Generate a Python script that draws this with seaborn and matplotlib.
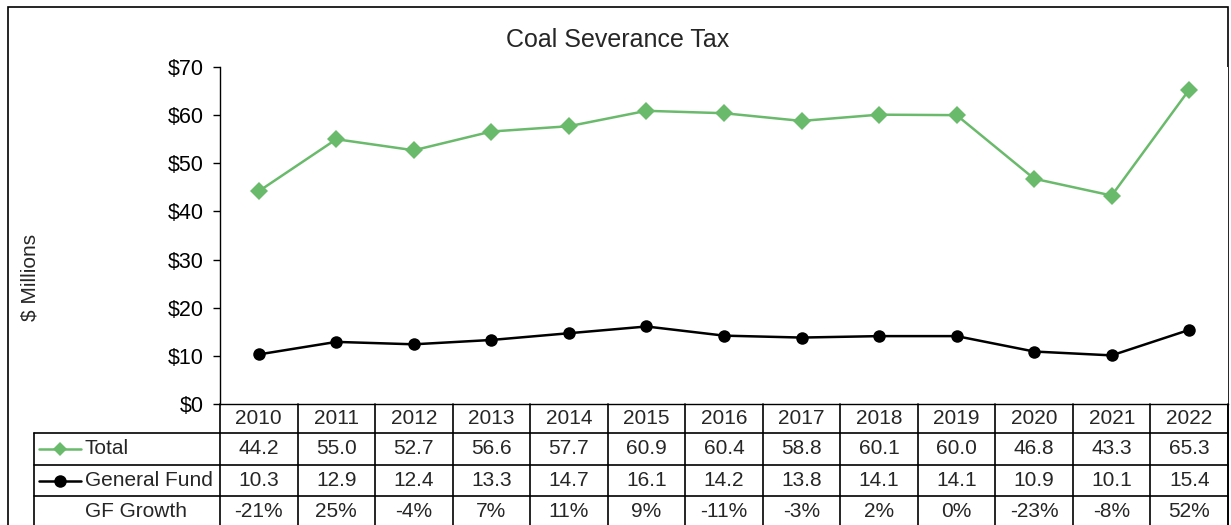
import pandas as pd
import numpy as np
import matplotlib
matplotlib.use("Agg")
import matplotlib.pyplot as plt
import seaborn as sns
from matplotlib.patches import Rectangle
from matplotlib.lines import Line2D

# ---- data ----
years = [2010, 2011, 2012, 2013, 2014, 2015, 2016, 2017, 2018, 2019, 2020, 2021, 2022]
total = [44.2, 55.0, 52.7, 56.6, 57.7, 60.9, 60.4, 58.8, 60.1, 60.0, 46.8, 43.3, 65.3]
general_fund = [10.3, 12.9, 12.4, 13.3, 14.7, 16.1, 14.2, 13.8, 14.1, 14.1, 10.9, 10.1, 15.4]
gf_growth = ["-21%", "25%", "-4%", "7%", "11%", "9%", "-11%", "-3%", "2%", "0%", "-23%", "-8%", "52%"]

GREEN = "#6aba6c"
BLACK = "#000000"

sns.set_style("white")
plt.rcParams['font.family'] = ['Liberation Sans', 'DejaVu Sans']

df = pd.DataFrame({
    "pos": list(range(len(years))) * 2,
    "value": total + general_fund,
    "series": ["Total"] * len(years) + ["General Fund"] * len(years),
})

W, H = 1231, 525
fig = plt.figure(figsize=(W / 100, H / 100), dpi=100)

# plot area in pixel coords
x0, x1 = 220, 1228
y_top, y_bot = 67, 404
ax = fig.add_axes([x0 / W, (H - y_bot) / H, (x1 - x0) / W, (y_bot - y_top) / H])

sns.lineplot(data=df, x="pos", y="value", hue="series", style="series",
             palette={"Total": GREEN, "General Fund": BLACK},
             markers={"Total": "D", "General Fund": "o"},
             dashes=False, markersize=9, linewidth=1.8,
             markeredgewidth=0, legend=False, ax=ax)

ax.set_xlim(-0.5, len(years) - 0.5)
ax.set_ylim(0, 70)
ax.set_yticks(range(0, 71, 10))
ax.set_yticklabels([f"${v}" for v in range(0, 71, 10)], fontsize=15.5)
ax.set_xticks([])
ax.set_xlabel("")
ax.set_ylabel("")
ax.tick_params(axis="y", direction="out", length=5, width=1, colors="black", left=True, pad=7)
for side in ["top", "right"]:
    ax.spines[side].set_visible(False)
for side in ["left", "bottom"]:
    ax.spines[side].set_color("black")
    ax.spines[side].set_linewidth(1)

fig.text(618 / W, 1 - 40 / H, "Coal Severance Tax", ha="center", va="center", fontsize=18)
fig.text(30 / W, 1 - 277 / H, "$ Millions", rotation=90, ha="center", va="center", fontsize=15)

# ---- data table under the axes ----
tab = fig.add_axes([x0 / W, 0, (x1 - x0) / W, (H - y_bot) / H])
tab.set_xlim(-0.5, len(years) - 0.5)
tab.set_ylim(0, H - y_bot)
tab.axis("off")

col_w = (x1 - x0) / len(years)
label_left = -0.5 - (x0 - 34) / col_w
row_edges = [121, 92, 60, 29]  # header top, Total top, General Fund top, GF Growth top
row_mid = [106.5, 76, 44.5, 13.5]
lw = 1.2

# horizontal lines
for y in row_edges[1:]:
    tab.plot([label_left, len(years) - 0.5], [y, y], color="black", lw=lw, clip_on=False)
# vertical lines
for k in range(len(years) + 1):
    tab.plot([k - 0.5, k - 0.5], [0, row_edges[0]], color="black", lw=lw, clip_on=False)
tab.plot([label_left, label_left], [0, row_edges[1]], color="black", lw=lw, clip_on=False)

fs = 15
for i, yr in enumerate(years):
    tab.text(i, row_mid[0], str(yr), ha="center", va="center", fontsize=fs)
    tab.text(i, row_mid[1], f"{total[i]:.1f}", ha="center", va="center", fontsize=fs)
    tab.text(i, row_mid[2], f"{general_fund[i]:.1f}", ha="center", va="center", fontsize=fs)
    tab.text(i, row_mid[3], gf_growth[i], ha="center", va="center", fontsize=fs)

# legend keys in the label column
key_l = label_left + (39 - 34) / col_w
key_r = label_left + (81 - 34) / col_w
key_m = (key_l + key_r) / 2
txt_x = label_left + (85 - 34) / col_w
tab.add_line(Line2D([key_l, key_r], [row_mid[1], row_mid[1]], color=GREEN, lw=1.8, clip_on=False))
tab.add_line(Line2D([key_m], [row_mid[1]], color=GREEN, marker="D", markersize=7.5, mew=0, clip_on=False))
tab.add_line(Line2D([key_l, key_r], [row_mid[2], row_mid[2]], color=BLACK, lw=1.8, clip_on=False))
tab.add_line(Line2D([key_m], [row_mid[2]], color=BLACK, marker="o", markersize=9, mew=0, clip_on=False))
tab.text(txt_x, row_mid[1], "Total", ha="left", va="center", fontsize=fs)
tab.text(txt_x, row_mid[2], "General Fund", ha="left", va="center", fontsize=fs)
tab.text(txt_x, row_mid[3], "GF Growth", ha="left", va="center", fontsize=fs)

# outer chart border
fig.patches.append(Rectangle((8 / W, -0.05), 1220 / W, (H - 7) / H + 0.05,
                             transform=fig.transFigure, fill=False,
                             edgecolor="black", linewidth=1.2, zorder=-1))

fig.savefig("out.png", dpi=100)
